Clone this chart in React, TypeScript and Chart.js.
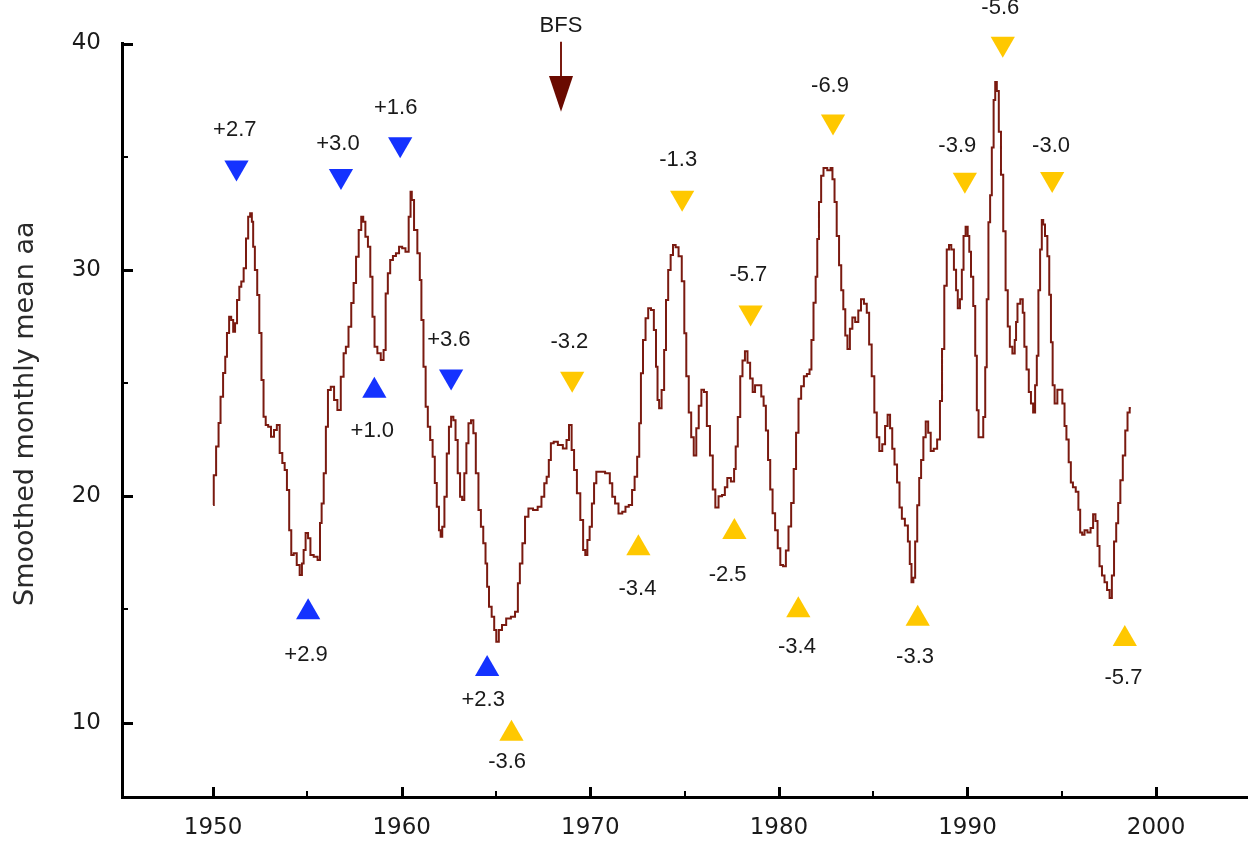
import React, { useEffect, useRef } from "react";
import { Chart, registerables } from "chart.js";

Chart.register(...registerables);

// ---- Smoothed monthly mean aa ----
const years = [
  1950.0, 1950.07, 1950.25, 1950.33, 1950.46, 1950.6, 1950.69, 1950.78, 1950.92, 1951.0,
  1951.13, 1951.2, 1951.34, 1951.44, 1951.55, 1951.69, 1951.8, 1951.92, 1952.01, 1952.1,
  1952.15, 1952.28, 1952.4, 1952.5, 1952.63, 1952.72, 1952.86, 1952.98, 1953.16, 1953.3,
  1953.46, 1953.6, 1953.74, 1953.85, 1953.98, 1954.09, 1954.2, 1954.35, 1954.52, 1954.66,
  1954.76, 1954.84, 1954.97, 1955.1, 1955.22, 1955.45, 1955.63, 1955.71, 1955.8, 1955.93,
  1956.03, 1956.15, 1956.33, 1956.5, 1956.68, 1956.86, 1956.98, 1957.1, 1957.26, 1957.39,
  1957.51, 1957.65, 1957.79, 1957.92, 1958.0, 1958.15, 1958.27, 1958.4, 1958.5, 1958.62,
  1958.8, 1958.98, 1959.1, 1959.2, 1959.33, 1959.45, 1959.62, 1959.77, 1959.95, 1960.1,
  1960.3, 1960.44, 1960.5, 1960.57, 1960.74, 1960.92, 1961.0, 1961.09, 1961.22, 1961.32,
  1961.45, 1961.57, 1961.71, 1961.8, 1961.92, 1962.03, 1962.1, 1962.2, 1962.33, 1962.45,
  1962.56, 1962.68, 1962.8, 1962.91, 1963.03, 1963.16, 1963.25, 1963.39, 1963.47, 1963.61,
  1963.74, 1963.86, 1964.0, 1964.14, 1964.26, 1964.39, 1964.5, 1964.56, 1964.7, 1964.84,
  1964.97, 1965.06, 1965.24, 1965.4, 1965.68, 1965.9, 1966.12, 1966.2, 1966.33, 1966.47,
  1966.61, 1966.83, 1967.1, 1967.32, 1967.5, 1967.62, 1967.75, 1967.85, 1967.97, 1968.15,
  1968.41, 1968.68, 1968.8, 1968.94, 1969.08, 1969.2, 1969.38, 1969.56, 1969.68, 1969.79,
  1969.9, 1970.03, 1970.14, 1970.26, 1970.38, 1970.6, 1970.97, 1971.1, 1971.23, 1971.4,
  1971.59, 1971.8, 1971.93, 1972.15, 1972.28, 1972.42, 1972.55, 1972.64, 1972.73, 1972.86,
  1973.0, 1973.14, 1973.3, 1973.44, 1973.53, 1973.6, 1973.7, 1973.86, 1973.97, 1974.06,
  1974.2, 1974.32, 1974.45, 1974.6, 1974.76, 1974.94, 1975.03, 1975.15, 1975.29, 1975.41,
  1975.56, 1975.68, 1975.82, 1975.96, 1976.1, 1976.26, 1976.43, 1976.56, 1976.7, 1976.9,
  1977.07, 1977.2, 1977.33, 1977.58, 1977.67, 1977.75, 1977.89, 1978.01, 1978.13, 1978.27,
  1978.4, 1978.55, 1978.67, 1978.8, 1979.0, 1979.13, 1979.25, 1979.37, 1979.48, 1979.6,
  1979.73, 1979.87, 1980.01, 1980.14, 1980.3, 1980.44, 1980.58, 1980.72, 1980.85, 1980.97,
  1981.11, 1981.25, 1981.4, 1981.57, 1981.68, 1981.77, 1981.9, 1982.0, 1982.07, 1982.18,
  1982.3, 1982.43, 1982.7, 1982.78, 1982.9, 1983.0, 1983.13, 1983.25, 1983.36, 1983.47,
  1983.57, 1983.7, 1983.83, 1983.96, 1984.13, 1984.29, 1984.42, 1984.6, 1984.72, 1984.85,
  1984.99, 1985.13, 1985.25, 1985.4, 1985.56, 1985.7, 1985.83, 1985.96, 1986.06, 1986.2,
  1986.33, 1986.46, 1986.58, 1986.78, 1986.9, 1986.98, 1987.08, 1987.18, 1987.27, 1987.4,
  1987.48, 1987.6, 1987.72, 1987.85, 1987.98, 1988.12, 1988.3, 1988.48, 1988.6, 1988.7,
  1988.84, 1988.96, 1989.08, 1989.2, 1989.36, 1989.43, 1989.54, 1989.66, 1989.74, 1989.84,
  1989.96, 1990.06, 1990.13, 1990.24, 1990.37, 1990.45, 1990.54, 1990.63, 1990.77, 1990.9,
  1990.98, 1991.06, 1991.16, 1991.24, 1991.34, 1991.43, 1991.51, 1991.6, 1991.72, 1991.83,
  1991.96, 1992.08, 1992.19, 1992.3, 1992.46, 1992.55, 1992.6, 1992.7, 1992.9, 1992.96,
  1993.07, 1993.19, 1993.31, 1993.42, 1993.54, 1993.63, 1993.72, 1993.8, 1993.9, 1993.98,
  1994.05, 1994.17, 1994.3, 1994.37, 1994.48, 1994.55, 1994.69, 1994.84, 1994.96, 1995.1,
  1995.19, 1995.3, 1995.43, 1995.53, 1995.65, 1995.83, 1995.93, 1996.02, 1996.14, 1996.27,
  1996.45, 1996.6, 1996.72, 1996.85, 1996.94, 1997.06, 1997.2, 1997.33, 1997.47, 1997.6,
  1997.71, 1997.83, 1997.94, 1998.04, 1998.17, 1998.3, 1998.43, 1998.54, 1998.66,
];

const aaValues = [
  19.61, 20.93, 22.19, 23.23, 24.39, 25.44, 26.16, 27.21, 27.93, 27.78,
  27.27, 27.64, 28.67, 29.25, 29.48, 30.07, 31.39, 32.35, 32.5, 32.13,
  31.02, 29.99, 28.89, 27.21, 25.13, 23.51, 23.14, 23.07, 22.63, 22.92,
  23.14, 21.91, 21.47, 21.16, 20.27, 18.5, 17.4, 17.48, 16.96, 16.52,
  17.03, 17.62, 18.37, 18.14, 17.4, 17.32, 17.18, 18.81, 19.68, 21.01,
  23.07, 24.69, 24.84, 24.25, 23.81, 25.28, 26.31, 26.6, 27.49, 28.53,
  29.42, 30.58, 31.76, 32.35, 32.13, 31.46, 31.02, 29.7, 27.93, 26.6,
  26.31, 26.02, 26.46, 28.96, 29.85, 30.43, 30.61, 30.73, 31.02, 30.95,
  30.8, 32.35, 33.45, 33.09, 31.76, 30.73, 29.55, 27.78, 25.72, 23.95,
  23.07, 22.48, 21.74, 20.58, 19.53, 18.5, 18.21, 18.65, 19.98, 21.89,
  23.07, 23.51, 23.36, 22.48, 21.01, 19.98, 19.83, 21.01, 22.34, 23.22,
  23.36, 22.78, 21.01, 19.39, 18.65, 17.92, 17.03, 16.0, 15.12, 14.67,
  14.09, 13.57, 14.09, 14.31, 14.6, 14.67, 14.89, 16.15, 17.03, 17.92,
  19.09, 19.46, 19.39, 19.53, 19.98, 20.57, 20.86, 21.6, 22.34, 22.41,
  22.26, 22.11, 22.48, 23.14, 22.04, 21.16, 20.13, 18.95, 17.62, 17.4,
  18.06, 18.65, 19.68, 20.57, 21.08, 21.08, 21.01, 20.57, 19.98, 19.68,
  19.24, 19.31, 19.53, 19.61, 20.27, 20.86, 21.74, 23.22, 25.43, 26.9,
  27.86, 28.3, 28.23, 27.34, 25.72, 24.25, 23.88, 24.69, 26.46, 28.67,
  29.99, 30.66, 31.1, 31.0, 30.6, 29.5, 27.2, 25.3, 23.7, 22.6,
  21.8, 23.0, 24.0, 24.7, 24.6, 23.1, 21.8, 20.3, 19.5, 20.0,
  20.05, 20.4, 20.8, 20.65, 21.2, 22.2, 23.5, 25.3, 26.0, 26.4,
  25.9, 25.2, 24.6, 24.9, 24.9, 24.4, 24.0, 22.9, 21.6, 20.3,
  19.25, 18.5, 17.7, 16.96, 16.9, 17.6, 18.66, 19.7, 21.2, 22.8,
  24.3, 24.86, 25.3, 25.4, 25.6, 26.9, 28.55, 29.7, 31.36, 33.0,
  34.16, 34.5, 34.4, 34.5, 34.0, 33.0, 31.5, 30.2, 29.1, 28.26,
  27.1, 26.5, 27.4, 27.9, 27.7, 28.2, 28.7, 28.5, 28.1, 26.7,
  25.3, 23.7, 22.6, 22.0, 22.3, 23.1, 23.6, 23.0, 22.1, 21.4,
  20.6, 19.5, 19.0, 18.7, 18.0, 17.0, 16.2, 16.4, 18.0, 19.6,
  20.8, 21.6, 22.6, 23.3, 22.8, 22.0, 22.1, 22.5, 24.2, 26.5,
  29.3, 30.9, 31.1, 30.9, 30.0, 29.1, 28.3, 28.7, 30.0, 31.5,
  31.9, 31.5, 30.8, 29.7, 28.4, 26.2, 23.8, 22.6, 22.6, 23.5,
  25.7, 28.7, 32.1, 33.3, 35.4, 37.5, 38.3, 37.9, 36.1, 34.2,
  31.7, 29.1, 27.5, 26.6, 26.3, 26.9, 27.7, 28.5, 28.7, 28.1,
  26.6, 25.6, 24.6, 24.1, 23.7, 24.9, 26.2, 29.1, 30.9, 32.2,
  32.0, 31.5, 30.6, 28.9, 26.8, 24.9, 24.1, 24.7, 24.7, 24.1,
  23.1, 22.5, 21.5, 20.6, 20.4, 20.2, 19.4, 18.4, 18.3, 18.5,
  18.4, 18.6, 19.2, 18.9, 17.8, 16.9, 16.5, 16.2, 15.85, 15.5,
  16.5, 18.0, 18.8, 19.7, 20.7, 21.8, 22.9, 23.7, 23.9,
];

// ---- axes ----
const xRange = [1945.17, 2004.82];
const yRange = [6.71, 40];
const xTicks = [1950, 1960, 1970, 1980, 1990, 2000];
const xMinorTicks = [1955, 1965, 1975, 1985, 1995];
const yTicks = [10, 20, 30, 40];
const yMinorTicks = [15, 25, 35];
const yTitle = "Smoothed monthly mean aa";

// ---- triangle markers with their change labels ----
const markerLabels = [
  "+2.7", "+3.0", "+1.6", "+3.6", "+2.9", "+1.0", "+2.3",
  "-3.6", "-3.2", "-3.4", "-1.3", "-2.5", "-5.7", "-3.4",
  "-6.9", "-3.3", "-3.9", "-5.6", "-3.0", "-5.7",
];
const markerDirections = [
  "down", "down", "down", "down", "up", "up", "up",
  "up", "down", "up", "down", "up", "down", "up",
  "down", "up", "down", "down", "down", "up",
];
const markerGroups = [
  "blue", "blue", "blue", "blue", "blue", "blue", "blue",
  "gold", "gold", "gold", "gold", "gold", "gold", "gold",
  "gold", "gold", "gold", "gold", "gold", "gold",
];
const markerYears = [
  1951.24, 1956.78, 1959.92, 1962.62, 1955.04, 1958.55, 1964.53,
  1965.82, 1969.04, 1972.55, 1974.87, 1977.64, 1978.5, 1981.03,
  1982.87, 1987.36, 1989.86, 1991.87, 1994.49, 1998.34,
];
const markerValues = [
  34.52, 34.15, 35.55, 25.29, 14.87, 24.66, 12.36,
  9.5, 25.19, 17.7, 33.18, 18.42, 28.11, 14.96,
  36.55, 14.59, 33.98, 39.99, 34.01, 13.69,
];
const labelYears = [
  1951.15, 1956.62, 1959.68, 1962.5, 1954.93, 1958.44, 1964.32,
  1965.59, 1968.89, 1972.5, 1974.66, 1977.28, 1978.38, 1980.96,
  1982.71, 1987.22, 1989.46, 1991.74, 1994.43, 1998.27,
];
const labelValues = [
  36.16, 35.55, 37.17, 26.92, 12.98, 22.88, 10.99,
  8.24, 26.83, 15.91, 34.85, 16.52, 29.77, 13.35,
  38.12, 12.91, 35.48, 41.55, 35.48, 11.97,
];

// ---- BFS arrow ----
const bfsLabel = "BFS";
const bfsYear = 1968.45;
const bfsShaftTop = 40.08;
const bfsHeadBase = 38.56;
const bfsHeadTip = 36.99;
const bfsLabelValue = 40.79;

const COLORS = {
  line: "#7a1a10",
  blue: "#1432ff",
  gold: "#ffc800",
  bfsShaft: "#7a1a10",
  bfsHead: "#6a0a00",
  text: "#1a1a1a",
};

function markerDataset(group: string, dir: string) {
  const pts: { x: number; y: number }[] = [];
  markerYears.forEach((yr, i) => {
    if (markerGroups[i] === group && markerDirections[i] === dir) {
      pts.push({ x: yr, y: markerValues[i] });
    }
  });
  return {
    type: "line" as const,
    data: pts,
    showLine: false,
    pointStyle: "triangle",
    pointRadius: 14,
    pointHoverRadius: 14,
    pointRotation: dir === "down" ? 180 : 0,
    pointBackgroundColor: group === "blue" ? COLORS.blue : COLORS.gold,
    pointBorderWidth: 0,
    borderWidth: 0,
    clip: false as any,
    order: 1,
  };
}

const annotationPlugin = {
  id: "aaAnnotations",
  afterDraw(chart: any) {
    const { ctx, chartArea } = chart;
    const xs = chart.scales.x;
    const ys = chart.scales.y;
    ctx.save();

    // inward tick marks
    ctx.strokeStyle = "#000";
    const bottom = chartArea.bottom;
    const left = chartArea.left;
    const seg = (x1: number, y1: number, x2: number, y2: number, w: number) => {
      ctx.lineWidth = w;
      ctx.beginPath();
      ctx.moveTo(x1, y1);
      ctx.lineTo(x2, y2);
      ctx.stroke();
    };
    xTicks.forEach((v) => {
      const px = Math.round(xs.getPixelForValue(v)) + 0.5;
      seg(px, bottom, px, bottom - 10, 3);
    });
    xMinorTicks.forEach((v) => {
      const px = Math.round(xs.getPixelForValue(v));
      seg(px, bottom, px, bottom - 6, 2);
    });
    yTicks.forEach((v) => {
      const py = Math.round(ys.getPixelForValue(v)) + 0.5;
      seg(left, py, left + 11, py, 3);
    });
    yMinorTicks.forEach((v) => {
      const py = Math.round(ys.getPixelForValue(v));
      seg(left, py, left + 6, py, 2);
    });

    // marker labels
    ctx.fillStyle = COLORS.text;
    ctx.font = '22px "Liberation Sans", Arial, sans-serif';
    ctx.textAlign = "center";
    ctx.textBaseline = "middle";
    markerLabels.forEach((t, i) => {
      ctx.fillText(t, xs.getPixelForValue(labelYears[i]), ys.getPixelForValue(labelValues[i]));
    });

    // BFS arrow
    const bx = Math.round(xs.getPixelForValue(bfsYear));
    ctx.fillText(bfsLabel, bx, ys.getPixelForValue(bfsLabelValue));
    ctx.strokeStyle = COLORS.bfsShaft;
    seg(bx, ys.getPixelForValue(bfsShaftTop), bx, ys.getPixelForValue(bfsHeadBase) + 1, 2);
    ctx.fillStyle = COLORS.bfsHead;
    ctx.beginPath();
    ctx.moveTo(bx - 12, ys.getPixelForValue(bfsHeadBase));
    ctx.lineTo(bx + 12, ys.getPixelForValue(bfsHeadBase));
    ctx.lineTo(bx, ys.getPixelForValue(bfsHeadTip));
    ctx.closePath();
    ctx.fill();

    // y axis title
    ctx.fillStyle = "#2a2a2a";
    ctx.font = '27px "DejaVu Sans", Verdana, sans-serif';
    ctx.textAlign = "center";
    ctx.textBaseline = "alphabetic";
    ctx.translate(33, (chartArea.top + chartArea.bottom) / 2 - 6.5);
    ctx.rotate(-Math.PI / 2);
    ctx.fillText(yTitle, 0, 0);

    ctx.restore();
  },
};

export default function App() {
  const canvasRef = useRef<HTMLCanvasElement | null>(null);

  useEffect(() => {
    const canvas = canvasRef.current;
    if (!canvas) return;
    const tickFont = { family: '"DejaVu Sans", Verdana, sans-serif', size: 23 };

    const chart = new Chart(canvas, {
      type: "line",
      data: {
        datasets: [
          {
            type: "line",
            data: years.map((x, i) => ({ x, y: aaValues[i] })),
            borderColor: COLORS.line,
            borderWidth: 2,
            pointRadius: 0,
            pointHoverRadius: 0,
            stepped: "middle",
            fill: false,
            tension: 0,
            order: 2,
          } as any,
          markerDataset("blue", "down"),
          markerDataset("blue", "up"),
          markerDataset("gold", "down"),
          markerDataset("gold", "up"),
        ] as any,
      },
      options: {
        animation: false,
        responsive: false,
        maintainAspectRatio: false,
        devicePixelRatio: 1,
        events: [],
        layout: { autoPadding: false, padding: { top: 43.5, right: 7, left: 0, bottom: 0 } },
        plugins: {
          legend: { display: false },
          tooltip: { enabled: false },
          title: { display: false },
        },
        scales: {
          x: {
            type: "linear",
            position: "bottom",
            min: xRange[0],
            max: xRange[1],
            afterBuildTicks: (s: any) => {
              s.ticks = xTicks.map((v) => ({ value: v }));
            },
            afterFit: (s: any) => {
              s.height = 45;
            },
            ticks: {
              font: tickFont,
              color: COLORS.text,
              padding: 17,
              maxRotation: 0,
              autoSkip: false,
              callback: (v: any) => String(v),
            },
            grid: { display: true, drawOnChartArea: false, drawTicks: false },
            border: { display: true, color: "#000", width: 3 },
          },
          y: {
            type: "linear",
            position: "left",
            min: yRange[0],
            max: yRange[1],
            afterBuildTicks: (s: any) => {
              s.ticks = yTicks.map((v) => ({ value: v }));
            },
            afterFit: (s: any) => {
              s.width = 122;
            },
            ticks: {
              font: tickFont,
              color: COLORS.text,
              padding: 21,
              autoSkip: false,
              callback: (v: any) => String(v),
            },
            grid: { display: true, drawOnChartArea: false, drawTicks: false },
            border: { display: true, color: "#000", width: 3 },
          },
        },
      } as any,
      plugins: [annotationPlugin],
    });

    return () => chart.destroy();
  }, []);

  return (
    <div style={{ position: "fixed", left: 0, top: 0, width: 1254, height: 842, background: "#fff" }}>
      <canvas ref={canvasRef} width={1254} height={842} style={{ width: 1254, height: 842, display: "block" }} />
    </div>
  );
}
